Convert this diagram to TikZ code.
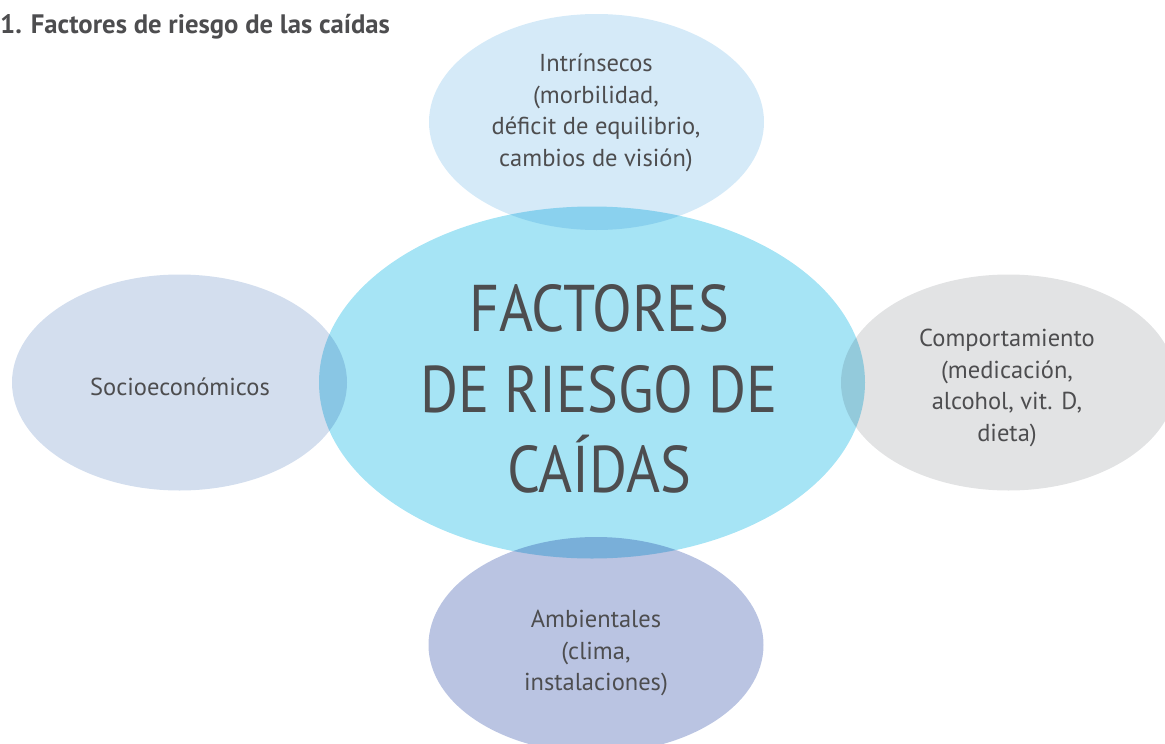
\documentclass[tikz,border=0pt]{standalone}
\usepackage{fontspec}
\setmainfont{PT Sans}
\newfontfamily\bigfont[FakeStretch=0.88]{PT Sans}
\usetikzlibrary{shapes.geometric}
\definecolor{txt}{HTML}{4D4D4F}
\definecolor{cTop}{HTML}{D5EAF8}
\definecolor{cMid}{HTML}{A6E4F5}
\definecolor{cLeft}{HTML}{D3DEEE}
\definecolor{cRight}{HTML}{E2E3E4}
\definecolor{cBot}{HTML}{BAC4E2}
\tikzset{
  blob/.style={ellipse, inner sep=0pt, draw=none, blend mode=multiply},
  small/.style={blob, minimum width=335pt, minimum height=216pt},
  lbl/.style={text=txt, align=center, inner sep=0pt, font=\fontsize{24.5}{31.5}\selectfont},
  big/.style={text=txt, align=center, inner sep=0pt, font=\bigfont\fontsize{66}{80.5}\selectfont},
}
\begin{document}
\begin{tikzpicture}[x=1pt, y=-1pt]
\useasboundingbox (0,0) rectangle (1165,744);
\node[small, fill=cTop] (top) at (596.5,122) {};
\node[small, fill=cLeft] (left) at (179.5,382.5) {};
\node[small, fill=cRight] (right) at (1008.5,382.5) {};
\node[small, fill=cBot] (bot) at (596,645) {};
\node[blob, fill=cMid, minimum width=546pt, minimum height=352pt] (mid) at (592,382.5) {};
\node[lbl] (ttop) at (596,113) {Intrínsecos\\(morbilidad,\\déficit de equilibrio,\\cambios de visión)};
\node[lbl] (tleft) at (180,387) {Socioeconómicos};
\node[lbl] (tright) at (1007,388) {Comportamiento\\(medicación,\\alcohol, vit. D,\\dieta)};
\node[lbl] (tbot) at (596,653) {Ambientales\\(clima,\\instalaciones)};
\node[big] (tmid) at (599,389) {FACTORES\\DE RIESGO DE\\CAÍDAS};
\node[anchor=base west, inner sep=0pt, text=txt, font=\fontsize{26.7}{30}\selectfont\bfseries] (title) at (0,33) {1. Factores de riesgo de las caídas};
\end{tikzpicture}
\end{document}
